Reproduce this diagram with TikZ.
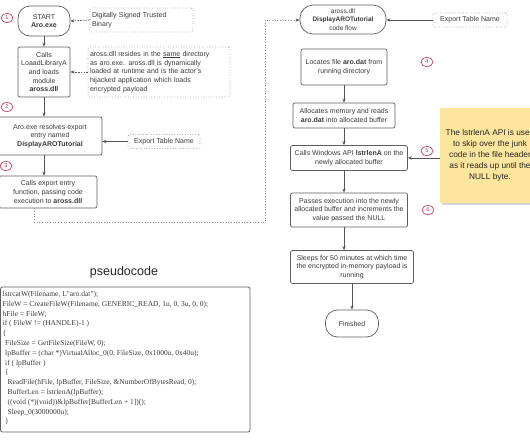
\documentclass[tikz,border=0pt]{standalone}
\usepackage{fontspec}
\setmainfont{Liberation Sans}
\newfontfamily\codefont{Liberation Serif}
\usetikzlibrary{arrows.meta,shapes.geometric,shadows}
\definecolor{boxgray}{HTML}{5E5E5E}
\definecolor{txt}{HTML}{3A3A3A}
\definecolor{numred}{HTML}{C0304F}
\definecolor{notefill}{HTML}{FCE59C}
\definecolor{dotgray}{HTML}{8A8A8A}
\definecolor{arrgray}{HTML}{555555}
\tikzset{
  box/.style={draw=boxgray, line width=0.7pt, rounded corners=2pt, align=center,
    font=\fontsize{7}{8.6}\selectfont, text=txt, inner sep=1pt},
  term/.style={box, rounded corners=12pt},
  dotbox/.style={draw=dotgray, line width=0.6pt, dotted, rounded corners=1.5pt, align=left,
    font=\fontsize{7}{8.8}\selectfont, text=txt, inner sep=2pt},
  num/.style={ellipse, draw=numred, line width=0.6pt, minimum width=12pt, minimum height=9pt,
    inner sep=0pt, font=\fontsize{5.5}{6}\selectfont, text=numred, fill=white},
  arr/.style={-{Stealth[length=4pt,width=3.2pt]}, draw=arrgray, line width=0.7pt},
  darr/.style={arr, dash pattern=on 1.5pt off 1.2pt},
  dotline/.style={draw=dotgray, line width=0.7pt, dotted},
  note/.style={fill=notefill, draw=none, align=center, text=black!85,
    font=\fontsize{8.3}{11}\selectfont, minimum width=100pt, minimum height=95pt,
    drop shadow={opacity=0.35, shadow xshift=1.5pt, shadow yshift=-2pt}},
}
\begin{document}
\begin{tikzpicture}[x=1pt,y=-1pt]
\useasboundingbox (0,0) rectangle (530,442);

% ---------- left column ----------
\node[term, minimum width=52pt, minimum height=30pt] (start) at (44,21) {START\\\textbf{Aro.exe}};
\node[box, minimum width=52pt, minimum height=50pt] (load) at (44,72)
  {Calls\\LoaadLibraryA\\and loads\\module\\\textbf{aross.dll}};
\node[box, minimum width=104pt, minimum height=38pt] (resolve) at (50,136)
  {Aro.exe resolves export\\entry named\\\textbf{DisplayAROTutorial}};
\node[box, minimum width=98pt, minimum height=32pt] (callexp) at (48,192)
  {Calls export entry\\function, passing code\\execution to \textbf{aross.dll}};

\node[dotbox, text width=99pt, minimum height=24pt] (signed) at (141.5,20)
  {Digitally Signed Trusted\\Binary};
\node[dotbox, text width=138pt, minimum height=50pt] (resides) at (159,72)
  {aross.dll resides in the \underline{same} directory\\as aro.exe. aross.dll is dynamically\\loaded at runtime and is the actor's\\hijacked application which loads\\encrypted payload};
\node[dotbox, minimum width=72pt, minimum height=14pt, inner sep=1pt] (etn1) at (164,141.5)
  {Export Table Name};

\node[num] (n1) at (7,18) {1};
\node[num] (n2) at (7,107) {2};
\node[num] (n3) at (6,166) {3};

\draw[arr] (start.south) -- (load.north);
\draw[arr] (load.south) -- (load.south |- resolve.north);
\draw[arr] (load.south |- resolve.south) -- (load.south |- callexp.north);
\draw[darr] (signed.west) -- (start.east);
\draw[darr] (resides.west) -- (load.east);
\draw[arr] (etn1.west) -- (resolve.east |- etn1.west);

% ---------- right column ----------
\node[term, minimum width=86pt, minimum height=29pt, rounded corners=13pt, font=\fontsize{6.5}{8.5}\selectfont] (dll) at (343,19.5)
  {aross.dll\\\textbf{DisplayAROTutorial}\\code flow};
\node[dotbox, minimum width=74pt, minimum height=14pt, inner sep=1pt] (etn2) at (470,20)
  {Export Table Name};
\node[box, minimum width=86pt, minimum height=36pt] (locate) at (344,67)
  {Locates file \textbf{aro.dat} from\\running directory};
\node[box, minimum width=102pt, minimum height=25pt] (alloc) at (344,115.5)
  {Allocates memory and reads\\\textbf{aro.dat} into allocated buffer};
\node[box, minimum width=117pt, minimum height=25pt] (strlen) at (349,158)
  {Calls Windows API \textbf{lstrlenA} on the\\newly allocated buffer};
\node[box, minimum width=117pt, minimum height=34pt] (passes) at (349,210)
  {Passes execution into the newly\\allocated buffer and increments the\\value passed the NULL};
\node[box, minimum width=123pt, minimum height=33pt] (sleeps) at (352,267)
  {Sleeps for 50 minutes at which time\\the encrypted in-memory payload is\\running};
\node[term, minimum width=53pt, minimum height=27pt, rounded corners=12pt] (fin) at (352,323.5) {Finished};

\node[note] (yellow) at (490,155.5)
  {The lstrlenA API is used\\to skip over the junk\\code in the file header\\as it reads up until the\\NULL byte.};

\node[num] (n4) at (427,62) {4};
\node[num] (n5) at (427,151) {5};
\node[num] (n6) at (428,210) {6};

\draw[arr] (etn2.west) -- (dll.east |- etn2.west);
\draw[arr] (locate.south) -- (locate.south |- alloc.north);
\draw[arr] (locate.south |- alloc.south) -- (locate.south |- strlen.north);
\draw[arr] (locate.south |- strlen.south) -- (locate.south |- passes.north);
\draw[arr] (locate.south |- passes.south) -- (locate.south |- sleeps.north);
\draw[arr] (fin.north |- sleeps.south) -- (fin.north);
\draw[arr] (yellow.west |- strlen.east) -- (strlen.east);

% ---------- dotted link ----------
\coordinate (c1) at (34,222);
\coordinate (c2) at (265,222);
\coordinate (c3) at (265,20);
\draw[dotline] (c1 |- callexp.south) -- (c1) -- (c2) -- (c3) -- ([xshift=-4pt]dll.west |- c3);
\draw[arr] ([xshift=-4pt]dll.west |- c3) -- (dll.west |- c3);

% ---------- pseudocode ----------
\node[font=\fontsize{12.5}{14}\selectfont, text=black!85] (ptitle) at (124,272) {pseudocode};
\draw[draw=boxgray, line width=0.7pt, rounded corners=2pt] (0.5,287) rectangle (250,432);
\node[anchor=north west, inner sep=0pt, align=left, text=txt,
  font=\codefont\fontsize{7.5}{9.8}\selectfont] (code) at (2.5,291) {%
lstrcatW(Filename, L"aro.dat");\\
FileW = CreateFileW(Filename, GENERIC\_READ, 1u, 0, 3u, 0, 0);\\
hFile = FileW;\\
if ( FileW != (HANDLE)-1 )\\
\{\\
\hspace*{2.5pt}FileSize = GetFileSize(FileW, 0);\\
\hspace*{2.5pt}lpBuffer = (char *)VirtualAlloc\_0(0, FileSize, 0x1000u, 0x40u);\\
\hspace*{2.5pt}if ( lpBuffer )\\
\hspace*{2.5pt}\{\\
\hspace*{5pt}ReadFile(hFile, lpBuffer, FileSize, \&NumberOfBytesRead, 0);\\
\hspace*{5pt}BufferLen = lstrlenA(lpBuffer);\\
\hspace*{5pt}((void (*)(void))\&lpBuffer[BufferLen + 1])();\\
\hspace*{5pt}Sleep\_0(3000000u);\\
\hspace*{2.5pt}\}};
\end{tikzpicture}
\end{document}
